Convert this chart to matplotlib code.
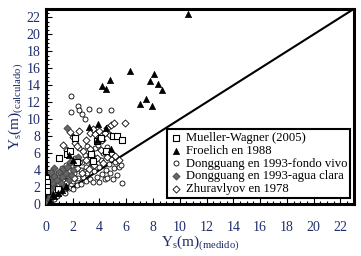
#!/usr/bin/env python3

# Scatter of computed vs measured scour depth, with the 1:1 line.
import matplotlib
matplotlib.use('Agg')
import matplotlib.pyplot as plt

# Mueller-Wagner (2005)
mw_x = [0.0, 0.05, 0.1, 0.1, 1.0, 1.6, 1.8, 2.3, 3.4, 3.5, 3.8, 4.5, 5.0, 5.3, 5.7, 2.2, 4.1, 0.9]
mw_y = [3.1, 2.6, 2.0, 1.5, 5.4, 5.9, 6.3, 5.0, 5.9, 5.1, 7.4, 6.2, 8.0, 8.0, 7.5, 7.8, 7.8, 1.8]

# Froelich en 1988
fr_x = [10.6, 6.3, 8.1, 7.8, 8.4, 4.8, 4.2, 4.5, 8.7, 7.5, 7.0, 7.9, 3.9, 3.2, 4.5, 3.8, 4.9,
        1.7, 2.0, 0.3, 0.6, 0.9, 1.2, 1.5, 0.5]
fr_y = [22.4, 15.7, 15.3, 14.5, 14.2, 14.6, 13.9, 13.6, 13.4, 12.4, 11.8, 11.6, 9.4, 9.1, 9.0, 7.5, 6.5,
        5.8, 5.2, 0.4, 0.9, 1.3, 1.7, 2.1, 1.2]

# Dongguang en 1993-fondo vivo
fv_x = [1.9, 1.9, 2.4, 2.5, 2.7, 2.9, 3.2, 4.0, 4.9,
        0.2, 0.3, 0.4, 0.5, 0.6, 0.7, 0.8, 0.5, 0.3,
        1.0, 1.0, 1.1, 1.2, 0.9, 1.2,
        1.4, 1.5, 1.6, 1.5, 1.7,
        2.0, 2.0, 2.1, 2.0, 2.2, 2.3, 2.4,
        2.6, 2.6, 2.7, 2.8, 2.9, 3.0, 3.0, 3.1,
        3.3, 3.4, 3.5, 3.5, 3.6, 3.7, 3.8,
        4.0, 4.0, 4.1, 4.2, 4.3, 4.4, 4.5,
        4.6, 4.7, 4.8, 4.9, 5.0, 5.1, 5.3, 5.5, 5.6, 5.7, 5.2,
        2.5, 3.1, 3.9, 4.6]
fv_y = [12.7, 10.9, 11.6, 11.1, 10.6, 10.0, 11.2, 11.1, 11.1,
        0.4, 0.8, 0.3, 1.1, 0.6, 1.5, 0.9, 2.0, 1.6,
        1.2, 2.2, 3.0, 1.6, 3.6, 4.2,
        1.3, 2.4, 3.3, 4.6, 1.9,
        1.8, 2.7, 3.6, 4.5, 5.4, 2.2, 3.1,
        2.4, 4.0, 4.9, 3.2, 5.8, 2.7, 4.4, 3.6,
        3.0, 4.8, 2.6, 5.6, 3.9, 6.6, 3.2,
        4.4, 2.6, 5.2, 3.5, 6.0, 2.9, 4.0,
        3.1, 4.7, 3.6, 5.3, 2.9, 4.2, 3.4, 4.4, 4.6, 2.5, 5.0,
        6.6, 6.9, 7.0, 6.7]

# Dongguang en 1993-agua clara
ac_x = [0.1, 0.2, 0.3, 0.2, 0.4, 0.5, 0.3, 0.6, 0.7, 0.8, 0.9, 1.0, 1.1, 1.2, 1.3,
        1.4, 1.5, 1.6, 1.7, 1.8, 1.9, 2.0, 2.2, 0.6, 0.4, 0.1, 1.6, 2.4]
ac_y = [0.2, 0.6, 1.0, 1.4, 1.8, 2.4, 2.9, 3.3, 2.0, 2.8, 1.4, 3.8, 2.5, 3.2, 4.1,
        2.0, 3.6, 4.4, 2.8, 5.0, 3.4, 4.0, 4.7, 4.2, 3.8, 2.3, 9.0, 5.5]

# Zhuravlyov en 1978
zh_x = [1.3, 1.8, 2.0, 2.2, 2.5, 2.3, 1.6, 3.3, 3.5, 3.7, 4.0, 4.4, 4.6, 4.9, 5.1, 5.9, 3.9, 4.2, 4.8, 3.0,
        0.4, 0.6, 0.8, 1.0, 1.2, 1.4, 1.6, 1.8, 2.1, 2.3, 2.5, 2.7, 3.0, 3.2, 3.4, 3.6, 3.8, 4.1, 4.3,
        4.6, 4.9, 5.2, 5.5, 2.8, 3.3]
zh_y = [7.0, 8.5, 7.9, 7.2, 8.6, 6.8, 6.4, 8.4, 8.8, 8.2, 8.6, 8.4, 9.0, 9.3, 9.5, 9.6, 7.8, 7.5, 8.1, 7.6,
        0.7, 1.4, 2.2, 1.8, 2.8, 3.4, 2.6, 3.9, 3.1, 4.2, 5.0, 3.7, 5.2, 4.1, 5.9, 4.6, 5.4, 6.4, 4.8,
        5.6, 6.0, 5.7, 5.2, 6.2, 6.5]

ticks = [0, 2, 4, 6, 8, 10, 12, 14, 16, 18, 20, 22]

plt.rcParams['font.family'] = ['Liberation Serif', 'DejaVu Serif']
plt.rcParams['mathtext.fontset'] = 'custom'
plt.rcParams['mathtext.rm'] = 'Liberation Serif'
plt.rcParams['mathtext.it'] = 'Liberation Serif:italic'

label_color = '#1f2d6b'

fig = plt.figure(figsize=(3.61, 2.56), dpi=100)
ax = fig.add_axes([0.127, 0.203, 0.853, 0.762])

ax.plot([0, 23], [0, 23], color='black', lw=1.5, zorder=1)

ax.scatter(fv_x, fv_y, s=13, marker='o', facecolor='white', edgecolor='black', lw=0.6, zorder=2,
           label='Dongguang en 1993-fondo vivo')
ax.scatter(zh_x, zh_y, s=13, marker='D', facecolor='white', edgecolor='black', lw=0.6, zorder=3,
           label='Zhuravlyov en 1978')
ax.scatter(ac_x, ac_y, s=13, marker='D', facecolor='#666666', edgecolor='#444444', lw=0.6, zorder=4,
           label='Dongguang en 1993-agua clara')
ax.scatter(mw_x, mw_y, s=20, marker='s', facecolor='white', edgecolor='black', lw=0.8, zorder=5,
           label='Mueller-Wagner (2005)')
ax.scatter(fr_x, fr_y, s=20, marker='^', facecolor='black', edgecolor='black', lw=0.5, zorder=6,
           label='Froelich en 1988')

ax.set_xlim(0, 23)
ax.set_ylim(0, 23)
ax.set_xticks(ticks)
ax.set_yticks(ticks)
ax.set_xticks([i * 0.5 for i in range(47)], minor=True)
ax.set_yticks([i * 0.5 for i in range(47)], minor=True)
ax.tick_params(which='both', direction='in', color='black', width=0.8)
ax.tick_params(which='major', length=4)
ax.tick_params(which='minor', length=2.5)
ax.tick_params(axis='x', pad=12, labelsize=10, labelcolor=label_color)
ax.tick_params(axis='y', pad=4, labelsize=10, labelcolor=label_color)
for sp in ax.spines.values():
    sp.set_linewidth(2.2)

ax.set_xlabel(r'$\mathrm{Y_s(m)_{(medido)}}$', fontsize=11, color=label_color, labelpad=0)
ax.set_ylabel(r'$\mathrm{Y_s(m)_{(calculado)}}$', fontsize=11, color=label_color, labelpad=1)

# legend order as in the original
h, l = ax.get_legend_handles_labels()
order = ['Mueller-Wagner (2005)', 'Froelich en 1988', 'Dongguang en 1993-fondo vivo',
         'Dongguang en 1993-agua clara', 'Zhuravlyov en 1978']
hmap = dict(zip(l, h))
leg = ax.legend([hmap[k] for k in order], order, loc='lower left', bbox_to_anchor=(0.393, 0.031),
                borderaxespad=0, fontsize=9.1, labelspacing=0.05, handlelength=0.9, handletextpad=0.35,
                borderpad=0.25, fancybox=False, framealpha=1, edgecolor='black')
leg.get_frame().set_linewidth(1.5)
leg.set_zorder(10)

fig.savefig('out.png', dpi=100)
